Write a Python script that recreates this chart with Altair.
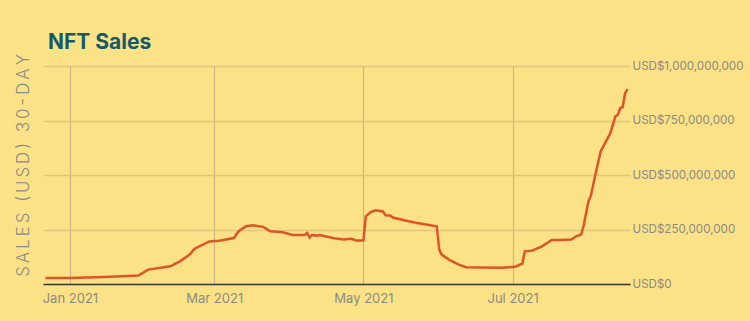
import altair as alt
import pandas as pd

dates = [
    "2020-12-22", "2021-01-01", "2021-01-15", "2021-01-29", "2021-02-02",
    "2021-02-11", "2021-02-15", "2021-02-19", "2021-02-21", "2021-02-27",
    "2021-03-03", "2021-03-09", "2021-03-11", "2021-03-14", "2021-03-17",
    "2021-03-21", "2021-03-24", "2021-03-29", "2021-04-02", "2021-04-07",
    "2021-04-08", "2021-04-09", "2021-04-10", "2021-04-12", "2021-04-13",
    "2021-04-19", "2021-04-23", "2021-04-26", "2021-04-28", "2021-05-01",
    "2021-05-02", "2021-05-04", "2021-05-06", "2021-05-09", "2021-05-10",
    "2021-05-12", "2021-05-13", "2021-05-19", "2021-05-23", "2021-05-31",
    "2021-06-01", "2021-06-02", "2021-06-05", "2021-06-09", "2021-06-12",
    "2021-06-26", "2021-07-02", "2021-07-05", "2021-07-06", "2021-07-09",
    "2021-07-13", "2021-07-17", "2021-07-20", "2021-07-25", "2021-07-27",
    "2021-07-29", "2021-07-30", "2021-08-01", "2021-08-02", "2021-08-04",
    "2021-08-06", "2021-08-10", "2021-08-12", "2021-08-13", "2021-08-14",
    "2021-08-15", "2021-08-16", "2021-08-17",
]
sales_musd = [
    28, 28, 32, 39, 66,
    81, 104, 135, 162, 195,
    198, 211, 242, 265, 269,
    262, 242, 237, 225, 225,
    234, 213, 225, 222, 225,
    210, 204, 207, 200, 200,
    310, 330, 338, 333, 315,
    314, 305, 289, 280, 265,
    158, 135, 112, 89, 77,
    74, 79, 94, 150, 153,
    173, 202, 202, 204, 219,
    227, 265, 379, 405, 509,
    608, 692, 768, 776, 807,
    811, 875, 894,
]
y_ticks = [0, 250, 500, 750, 1000]
x_ticks = ["2021-01-01", "2021-03-01", "2021-05-01", "2021-07-01"]
x_domain = ["2020-12-21", "2021-08-18"]
y_title_words = ["SALES", "(USD)", "30-DAY"]

df = pd.DataFrame({"date": dates, "sales": sales_musd})

def dt(s):
    y, m, d = (int(p) for p in s.split("-"))
    return alt.DateTime(year=y, month=m, date=d)

THIN = "\u2009"
y_title = (THIN + "\u00a0" + THIN).join(THIN.join(w) for w in y_title_words)

FONT = "Inter"
GRAY = "#8c8a84"

chart = (
    alt.Chart(df)
    .mark_line(color="#df5427", strokeWidth=2.5, interpolate="linear")
    .encode(
        x=alt.X(
            "date:T",
            scale=alt.Scale(domain=[dt(s) for s in x_domain]),
            axis=alt.Axis(
                values=[dt(s) for s in x_ticks],
                format="%b %Y",
                title=None,
                grid=True,
                gridColor="#cbb683",
                gridWidth=1.2,
                ticks=False,
                domain=True,
                domainColor="#3d3a33",
                domainWidth=1.5,
                labelPadding=8,
                labelFont=FONT,
                labelFontSize=13,
                labelColor=GRAY,
            ),
        ),
        y=alt.Y(
            "sales:Q",
            scale=alt.Scale(domain=[0, 1000]),
            axis=alt.Axis(
                orient="right",
                values=y_ticks,
                labelExpr="'USD$' + format(datum.value * 1000000, ',')",
                grid=True,
                gridColor="#dfc67c",
                gridWidth=1.5,
                ticks=False,
                domain=False,
                labelPadding=2,
                labelFont=FONT,
                labelFontSize=11.6,
                labelColor=GRAY,
                title=y_title,
                titleFont=FONT,
                titleFontSize=16.8,
                titleFontWeight=300,
                titleColor=GRAY,
                titleAngle=270,
                titleAlign="center",
                titleBaseline="middle",
                titleX=-607,
                titleY=99,
            ),
        ),
    )
    .properties(
        width=587,
        height=218,
        background="#fbe287",
        padding={"left": 43, "top": 66, "right": 120, "bottom": 37},
        autosize=alt.AutoSizeParams(type="none"),
        title=alt.TitleParams(
            "NFT Sales",
            anchor="start",
            font=FONT,
            fontSize=21,
            fontWeight="bold",
            color="#16596b",
            dx=33,
            offset=1,
        ),
    )
    .configure_view(stroke=None)
)

chart.save("out.html", embed_options={"renderer": "svg", "actions": False})
